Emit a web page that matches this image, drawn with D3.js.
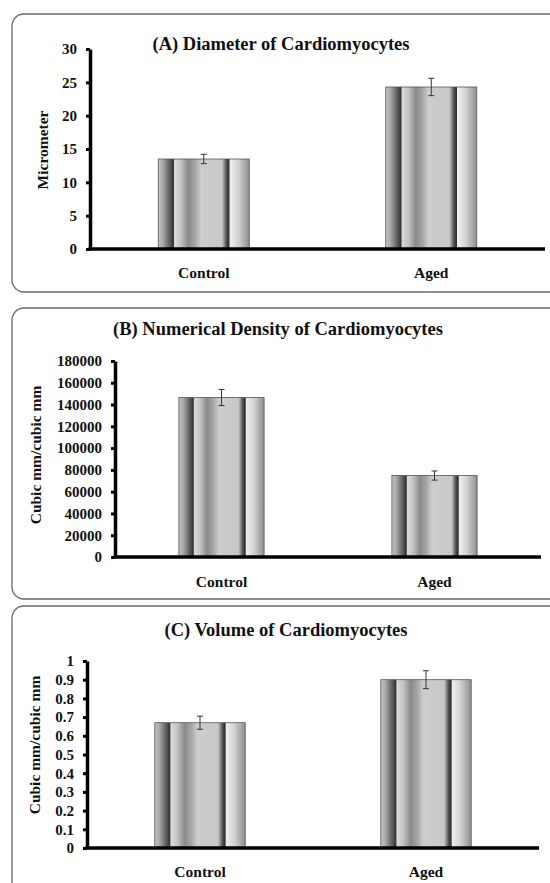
<!DOCTYPE html>
<html><head><meta charset="utf-8">
<script src="https://cdn.jsdelivr.net/npm/d3@7"></script>
<style>
html,body{margin:0;padding:0;background:#fff;}
svg{display:block;}
text{font-family:"Liberation Serif","Times New Roman",serif;font-weight:bold;fill:#111;}
</style></head>
<body>
<svg id="chart" width="550" height="883"></svg>
<script>
// ---- data ----
const categories = ["Control", "Aged"];

const diameterMeans = [13.5, 24.3];
const diameterErrors = [0.7, 1.3];
const diameterTicks = [0, 5, 10, 15, 20, 25, 30];

const densityMeans = [146500, 74800];
const densityErrors = [7400, 4200];
const densityTicks = [0, 20000, 40000, 60000, 80000, 100000, 120000, 140000, 160000, 180000];

const volumeMeans = [0.67, 0.90];
const volumeErrors = [0.035, 0.048];
const volumeTicks = [0, 0.1, 0.2, 0.3, 0.4, 0.5, 0.6, 0.7, 0.8, 0.9, 1];

const titles = ["(A) Diameter of Cardiomyocytes", "(B) Numerical Density of Cardiomyocytes", "(C) Volume of Cardiomyocytes"];
const yTitles = ["Micrometer", "Cubic mm/cubic mm", "Cubic mm/cubic mm"];

// ---- layout ----
const svg = d3.select("#chart");
const defs = svg.append("defs");
const grad = defs.append("linearGradient").attr("id", "barGrad")
  .attr("x1", "0%").attr("x2", "100%").attr("y1", "0%").attr("y2", "0%");
[
  [0, "#c4c4c4"], [5, "#aaaaaa"], [13, "#5a5a5a"], [17, "#303030"], [17.6, "#dcdcdc"],
  [25, "#c2c2c2"], [33, "#8a8a8a"], [40, "#a4a4a4"], [47, "#cdcdcd"], [70, "#c8c8c8"],
  [75, "#505050"], [78, "#2a2a2a"], [78.6, "#f0f0f0"], [88, "#d2d2d2"], [100, "#8e8e8e"]
].forEach(([o, c]) => grad.append("stop").attr("offset", o + "%").attr("stop-color", c));

const panels = [
  { means: diameterMeans, errs: diameterErrors, ticks: diameterTicks, max: 30,
    frame: [12, 14, 292], axisX: 90, xEnd: 545, yTop: 49, yBot: 249,
    titleX: 281, titleY: 50, yLabX: 48, yLabY: 150, catY: 278 },
  { means: densityMeans, errs: densityErrors, ticks: densityTicks, max: 180000,
    frame: [12, 308, 599], axisX: 115, xEnd: 541, yTop: 361, yBot: 557,
    titleX: 278, titleY: 335, yLabX: 41, yLabY: 455, catY: 587 },
  { means: volumeMeans, errs: volumeErrors, ticks: volumeTicks, max: 1,
    frame: [12, 606, 920], axisX: 87, xEnd: 539, yTop: 661, yBot: 848,
    titleX: 286, titleY: 636, yLabX: 40, yLabY: 745, catY: 877 }
];

panels.forEach((p, i) => {
  const g = svg.append("g");
  // frame
  g.append("rect")
    .attr("x", p.frame[0]).attr("y", p.frame[1])
    .attr("width", 600).attr("height", p.frame[2] - p.frame[1])
    .attr("rx", 12).attr("ry", 12)
    .attr("fill", "none").attr("stroke", "#6a6a6a").attr("stroke-width", 1.3);

  const x = d3.scaleBand().domain(categories).range([p.axisX, p.xEnd])
    .paddingInner(0.6).paddingOuter(0.3);
  const y = d3.scaleLinear().domain([0, p.max]).range([p.yBot, p.yTop]);

  // bars
  g.selectAll("rect.bar").data(categories).join("rect")
    .attr("class", "bar")
    .attr("x", d => x(d)).attr("width", x.bandwidth())
    .attr("y", (d, j) => y(p.means[j]))
    .attr("height", (d, j) => y(0) - y(p.means[j]))
    .attr("fill", "url(#barGrad)").attr("stroke", "#555").attr("stroke-width", 0.8);

  // error bars
  const eb = g.selectAll("g.err").data(categories).join("g").attr("class", "err");
  eb.append("line")
    .attr("x1", d => x(d) + x.bandwidth() / 2).attr("x2", d => x(d) + x.bandwidth() / 2)
    .attr("y1", (d, j) => y(p.means[j] + p.errs[j])).attr("y2", (d, j) => y(p.means[j] - p.errs[j]))
    .attr("stroke", "#333").attr("stroke-width", 1);
  [1, -1].forEach(s => {
    eb.append("line")
      .attr("x1", d => x(d) + x.bandwidth() / 2 - 3).attr("x2", d => x(d) + x.bandwidth() / 2 + 3)
      .attr("y1", (d, j) => y(p.means[j] + s * p.errs[j])).attr("y2", (d, j) => y(p.means[j] + s * p.errs[j]))
      .attr("stroke", "#333").attr("stroke-width", 1);
  });

  // y axis
  const ya = g.append("g").attr("transform", `translate(${p.axisX},0)`)
    .call(d3.axisLeft(y).tickValues(p.ticks).tickSize(4).tickSizeOuter(0).tickPadding(9)
      .tickFormat(d3.format("~g")));
  ya.select(".domain").attr("stroke", "#000").attr("stroke-width", 3.5);
  ya.selectAll(".tick line").attr("stroke", "#000").attr("stroke-width", 3);
  ya.selectAll(".tick text").attr("font-size", 15).attr("font-family", null).attr("fill", "#111");

  // x axis line
  const xa = g.append("g").attr("transform", `translate(0,${y(0)})`)
    .call(d3.axisBottom(x).tickSize(0).tickPadding(0));
  xa.select(".domain").attr("d", `M${p.axisX - 1.5},0H${p.xEnd}`)
    .attr("stroke", "#000").attr("stroke-width", 3.5);
  xa.selectAll(".tick text").attr("font-size", 15.5).attr("font-family", null)
    .attr("fill", "#111").attr("dy", null)
    .attr("y", p.catY - y(0));

  // title
  g.append("text").attr("x", p.titleX).attr("y", p.titleY)
    .attr("text-anchor", "middle").attr("font-size", 18.5).text(titles[i]);
  // y title
  g.append("text").attr("transform", `translate(${p.yLabX},${p.yLabY}) rotate(-90)`)
    .attr("text-anchor", "middle").attr("font-size", 15.5).text(yTitles[i]);
});
</script>
</body></html>
